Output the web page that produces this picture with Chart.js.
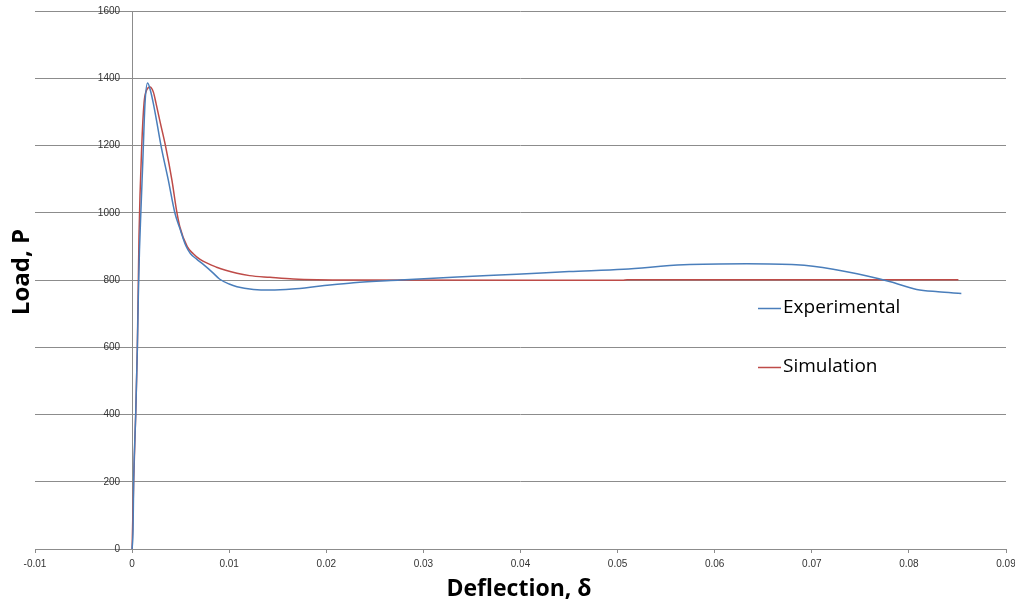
<!DOCTYPE html>
<html>
<head>
<meta charset="utf-8">
<script src="https://cdn.jsdelivr.net/npm/chart.js@4"></script>
<style>
  html, body { margin: 0; padding: 0; background: #fff; }
  #wrap { position: relative; width: 1015px; height: 605px; }
</style>
</head>
<body>
<div id="wrap"><canvas id="c" width="1015" height="605"></canvas></div>
<script>
// ---- data ----
const expDeflection = [0, 0.0001, 0.00016, 0.00037, 0.00054, 0.00064, 0.00076, 0.0009, 0.0011, 0.00133, 0.0016, 0.0019, 0.00218, 0.0025, 0.0030, 0.00373, 0.0044, 0.0049, 0.00555, 0.006, 0.00665, 0.0073, 0.0083, 0.0090, 0.0100, 0.0108, 0.0125, 0.0142, 0.0165, 0.0194, 0.0228, 0.0276, 0.0335, 0.0396, 0.0450, 0.0506, 0.0568, 0.0633, 0.0684, 0.0722, 0.0757, 0.0781, 0.0808, 0.0830, 0.0854];
const expLoad       = [0, 60, 200, 399, 595, 750, 890, 1000, 1150, 1326, 1386, 1362, 1326, 1277, 1196, 1097, 1000, 955, 901, 879, 862, 847, 822, 803, 788, 780, 772, 770, 773, 782, 792, 800, 809, 817, 825, 832, 845, 848, 845, 832, 812, 795, 772, 765, 760];
const simDeflection = [0, 0.00016, 0.00037, 0.00054, 0.00071, 0.00099, 0.00123, 0.0015, 0.00184, 0.0022, 0.00246, 0.0029, 0.00346, 0.0041, 0.0046, 0.0049, 0.00568, 0.0063, 0.0070, 0.0087, 0.0108, 0.0121, 0.0142, 0.0166, 0.0224, 0.0505, 0.0510, 0.0851];
const simLoad       = [0, 200, 400, 600, 929, 1196, 1326, 1365, 1374, 1358, 1326, 1268, 1196, 1097, 1003, 960, 899, 878, 861, 838, 820, 813, 808, 803, 800, 799, 801, 801];
const xTicks = [-0.01, 0, 0.01, 0.02, 0.03, 0.04, 0.05, 0.06, 0.07, 0.08, 0.09];
const xTickLabels = ['-0.01', '0', '0.01', '0.02', '0.03', '0.04', '0.05', '0.06', '0.07', '0.08', '0.09'];
const yTicks = [0, 200, 400, 600, 800, 1000, 1200, 1400, 1600];
const seriesNames = ['Experimental', 'Simulation'];
const xTitle = 'Deflection, \u03B4';
const yTitle = 'Load, P';

const toPts = (xs, ys) => xs.map((x, i) => ({ x: x, y: ys[i] }));
const colors = ['#4a7ebb', '#be4b48'];

const overlay = {
  id: 'overlay',
  afterDraw(chart) {
    const ctx = chart.ctx;
    const xs = chart.scales.x, ys = chart.scales.y;
    ctx.save();
    ctx.fillStyle = '#333';
    ctx.font = '10px "Liberation Sans", sans-serif';
    // y tick labels, left of the axis crossing at x = 0
    ctx.textAlign = 'right';
    ctx.textBaseline = 'middle';
    const ax = xs.getPixelForValue(0);
    yTicks.forEach(v => ctx.fillText(String(v), ax - 12, ys.getPixelForValue(v)));
    // x tick labels
    ctx.textAlign = 'center';
    const by = ys.getPixelForValue(0);
    xTicks.forEach((v, i) => ctx.fillText(xTickLabels[i], xs.getPixelForValue(v), by + 15));
    ctx.restore();
    // axis titles
    ctx.save();
    ctx.fillStyle = '#000';
    ctx.font = 'bold 23px "Open Sans", sans-serif';
    ctx.textAlign = 'center';
    ctx.textBaseline = 'middle';
    ctx.fillText(xTitle, 519, 589);
    ctx.font = 'bold 24px "Open Sans", sans-serif';
    ctx.translate(22, 272);
    ctx.rotate(-Math.PI / 2);
    ctx.fillText(yTitle, 0, 0);
    ctx.restore();
    // legend
    ctx.save();
    const items = [[308, 0], [367, 1]];
    ctx.font = '19px "Open Sans", sans-serif';
    ctx.textAlign = 'left';
    ctx.textBaseline = 'middle';
    items.forEach(([y, i]) => {
      ctx.strokeStyle = colors[i];
      ctx.lineWidth = 1.5;
      ctx.beginPath();
      ctx.moveTo(758, y + 0.5);
      ctx.lineTo(781, y + 0.5);
      ctx.stroke();
      ctx.fillStyle = '#000';
      ctx.fillText(seriesNames[i], 783, y);
    });
    ctx.restore();
  }
};

new Chart(document.getElementById('c'), {
  type: 'scatter',
  data: {
    datasets: [
      { label: seriesNames[0], data: toPts(expDeflection, expLoad), showLine: true, borderColor: colors[0], backgroundColor: colors[0], borderWidth: 1.5, pointRadius: 0, cubicInterpolationMode: 'monotone' },
      { label: seriesNames[1], data: toPts(simDeflection, simLoad), showLine: true, borderColor: colors[1], backgroundColor: colors[1], borderWidth: 1.5, pointRadius: 0, cubicInterpolationMode: 'monotone' }
    ]
  },
  options: {
    responsive: false,
    animation: false,
    devicePixelRatio: 1,
    layout: { padding: { left: 35, right: 9, top: 11, bottom: 52 } },
    plugins: { legend: { display: false }, tooltip: { enabled: false } },
    scales: {
      x: {
        type: 'linear',
        position: 'bottom',
        min: -0.01, max: 0.09,
        afterBuildTicks: (s) => { s.ticks = xTicks.map(v => ({ value: v })); },
        ticks: { display: false },
        grid: { drawOnChartArea: false, drawTicks: true, tickLength: 4, color: '#8c8c8c' },
        border: { display: true, color: '#8c8c8c' }
      },
      y: {
        type: 'linear',
        position: { x: 0 },
        min: 0, max: 1600,
        afterBuildTicks: (s) => { s.ticks = yTicks.map(v => ({ value: v })); },
        ticks: { display: false },
        grid: { drawTicks: false, color: '#8c8c8c' },
        border: { display: true, color: '#8c8c8c' }
      }
    }
  },
  plugins: [overlay]
});
</script>
</body>
</html>
